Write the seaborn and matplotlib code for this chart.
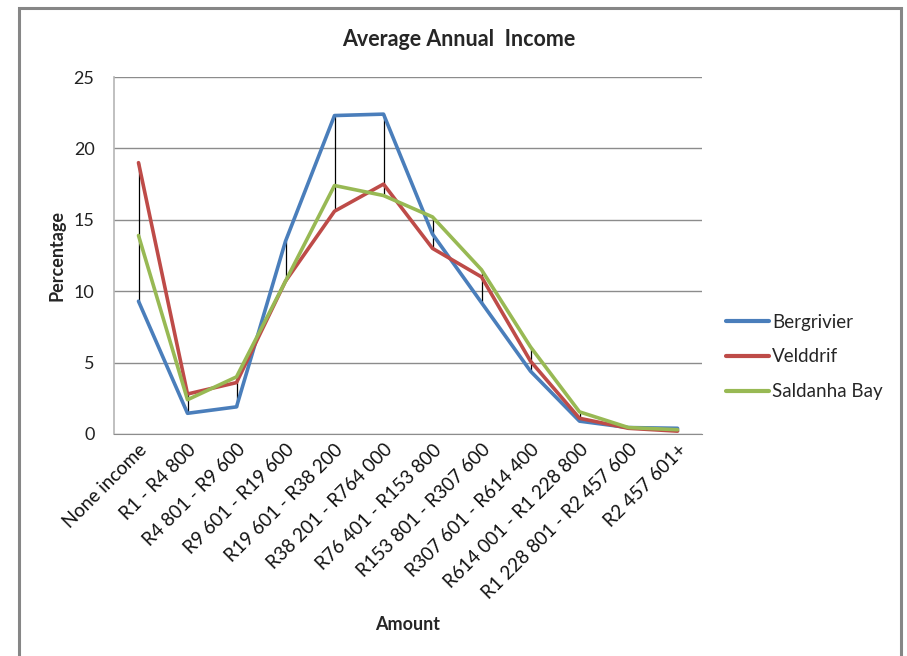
import numpy as np
import pandas as pd
import matplotlib
matplotlib.use('Agg')
import matplotlib.pyplot as plt
import seaborn as sns
from matplotlib.patches import Rectangle

# Данные
categories = ['None income', 'R1 - R4 800', 'R4 801 - R9 600', 'R9 601 - R19 600',
              'R19 601 - R38 200', 'R38 201 - R764 000', 'R76 401 - R153 800',
              'R153 801 - R307 600', 'R307 601 - R614 400', 'R614 001 - R1 228 800',
              'R1 228 801 - R2 457 600', 'R2 457 601+']
bergrivier  = [9.3, 1.45, 1.9, 13.5, 22.3, 22.4, 14.0, 9.2, 4.4, 0.9, 0.45, 0.4]
velddrif    = [19.0, 2.8, 3.6, 10.7, 15.6, 17.5, 13.0, 11.0, 5.1, 1.1, 0.4, 0.2]
saldanha    = [13.9, 2.4, 4.0, 10.7, 17.4, 16.7, 15.2, 11.5, 6.1, 1.55, 0.45, 0.3]
series      = ['Bergrivier', 'Velddrif', 'Saldanha Bay']
yticks      = [0, 5, 10, 15, 20, 25]

colors = {'Bergrivier': '#4A7EBB', 'Velddrif': '#BE4B48', 'Saldanha Bay': '#98B954'}

pos = np.arange(len(categories))
df = pd.DataFrame({'pos': np.tile(pos, 3),
                   'value': bergrivier + velddrif + saldanha,
                   'series': np.repeat(series, len(categories))})

sns.set_style('white')
plt.rcParams['font.family'] = ['Lato', 'DejaVu Sans']

fig = plt.figure(figsize=(9.07, 6.56), dpi=100)
ax = fig.add_axes([114/907, 1-434/656, (702-114)/907, (434-77)/656])

# линии максимум-минимум
vals = np.array([bergrivier, velddrif, saldanha])
ax.vlines(pos, vals.min(axis=0), vals.max(axis=0), color='black', lw=0.9, zorder=1)

sns.lineplot(data=df, x='pos', y='value', hue='series', palette=colors,
             hue_order=series, lw=2.6, ax=ax, zorder=2, legend=False)

ax.set_xlim(-0.5, len(categories) - 0.5)
ax.set_ylim(0, 25)
ax.set_yticks(yticks)
ax.set_yticklabels([str(t) for t in yticks], fontsize=13, color='#222222')
ax.set_xticks(pos)
ax.set_xticklabels(categories, rotation=45, ha='right', rotation_mode='anchor',
                   fontsize=13.5, color='#111111')
ax.tick_params(axis='y', length=7, color='#999999', width=1, pad=7)
ax.tick_params(axis='x', length=0, pad=5)
ax.yaxis.grid(True, color='#8c8c8c', lw=1)
ax.set_axisbelow(True)
for s in ['top', 'right']:
    ax.spines[s].set_visible(False)
ax.spines['left'].set_color('#b5b5b5')
ax.spines['bottom'].set_color('#8c8c8c')
ax.spines['left'].set_linewidth(1.2)

ax.set_xlabel('Amount', fontsize=13, fontweight='bold')
ax.set_ylabel('Percentage', fontsize=13, fontweight='bold')
ax.xaxis.set_label_coords(0.5, -0.51)
ax.yaxis.set_label_coords(-0.083, 0.5)
fig.text(459/907, 1-40/656, 'Average Annual  Income', ha='center', va='center',
         fontsize=15.5, fontweight='bold')

# легенда
handles = [plt.Line2D([], [], color=colors[s], lw=3) for s in series]
fig.legend(handles, series, loc='center left', bbox_to_anchor=(709/907, 1-357/656),
           frameon=False, fontsize=13.5, handlelength=2.3, handletextpad=0.15,
           labelspacing=0.95)

# рамка
fig.patches.append(Rectangle((19/907, -0.05), (901-19)/907, 1.05-8/656,
                             transform=fig.transFigure, fill=False,
                             edgecolor='#868686', lw=2.2))

plt.savefig('out.png', dpi=100)
plt.close()
